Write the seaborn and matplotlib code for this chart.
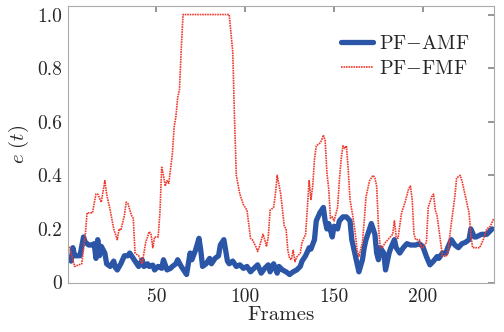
import numpy as np
import pandas as pd
import matplotlib
matplotlib.use("Agg")
import matplotlib.pyplot as plt
import seaborn as sns

# PF-AMF (linha azul grossa)
frames_amf = [1, 2, 3, 4, 6, 7, 9, 10, 12, 14, 15, 16, 17, 18, 19, 21, 22, 24, 26, 27,
              28, 30, 32, 34, 35, 37, 39, 40, 42, 43, 45, 46, 48, 49, 51, 53, 54, 56, 58, 59,
              61, 62, 64, 66, 67, 69, 70, 72, 74, 75, 76, 78, 80, 81, 83, 85, 86, 88, 90, 91,
              93, 95, 97, 99, 101, 103, 104, 106, 107, 109, 111, 113, 114, 116, 118, 119, 121, 123, 125, 127,
              129, 131, 132, 134, 136, 137, 139, 140, 142, 144, 145, 146, 147, 149, 150, 152, 153, 155, 157, 159,
              160, 161, 163, 164, 166, 167, 168, 170, 171, 173, 174, 175, 176, 178, 179, 181, 182, 184, 185, 187,
              189, 191, 193, 196, 198, 200, 202, 204, 206, 208, 209, 211, 213, 214, 216, 218, 220, 222, 224, 226,
              227, 229, 230, 233, 236, 239]
erro_amf = [0.09, 0.08, 0.13, 0.10, 0.10, 0.10, 0.17, 0.15, 0.14, 0.14, 0.145, 0.09, 0.16, 0.10, 0.135, 0.11, 0.07, 0.06, 0.08, 0.055,
            0.047, 0.07, 0.10, 0.10, 0.11, 0.09, 0.07, 0.06, 0.085, 0.06, 0.07, 0.06, 0.065, 0.047, 0.06, 0.053, 0.085, 0.047, 0.053, 0.06,
            0.07, 0.085, 0.06, 0.04, 0.03, 0.11, 0.085, 0.12, 0.165, 0.12, 0.06, 0.07, 0.09, 0.07, 0.09, 0.10, 0.14, 0.16, 0.08, 0.07,
            0.08, 0.06, 0.066, 0.053, 0.06, 0.04, 0.047, 0.06, 0.066, 0.035, 0.053, 0.066, 0.04, 0.07, 0.035, 0.06, 0.047, 0.04, 0.03, 0.04,
            0.047, 0.06, 0.08, 0.10, 0.13, 0.125, 0.16, 0.23, 0.26, 0.28, 0.23, 0.20, 0.22, 0.17, 0.21, 0.20, 0.23, 0.245, 0.245, 0.23,
            0.16, 0.13, 0.07, 0.04, 0.085, 0.13, 0.16, 0.20, 0.22, 0.18, 0.11, 0.085, 0.13, 0.11, 0.047, 0.11, 0.13, 0.16, 0.13, 0.11,
            0.13, 0.145, 0.14, 0.14, 0.145, 0.134, 0.097, 0.066, 0.08, 0.097, 0.09, 0.11, 0.11, 0.13, 0.16, 0.14, 0.13, 0.145, 0.15, 0.16,
            0.20, 0.17, 0.17, 0.18, 0.18, 0.20]

# PF-FMF (linha vermelha pontilhada)
frames_fmf = [1, 4, 6, 8, 10, 11, 14, 16, 17, 19, 21, 22, 24, 26, 28, 29, 30, 32, 33, 34,
              36, 37, 38, 40, 42, 44, 46, 47, 48, 49, 51, 52, 53, 54, 55, 56, 57, 59, 60, 61,
              62, 63, 64, 65, 91, 93, 94, 95, 97, 99, 100, 101, 103, 104, 106, 107, 108, 110, 111, 112,
              113, 114, 116, 117, 118, 120, 121, 122, 123, 124, 125, 126, 127, 128, 129, 131, 132, 134, 135, 136,
              137, 138, 139, 140, 142, 143, 144, 145, 146, 147, 148, 149, 150, 152, 153, 154, 155, 156, 157, 158,
              159, 161, 162, 163, 164, 166, 167, 168, 170, 172, 173, 174, 175, 176, 177, 179, 181, 183, 184, 185,
              186, 188, 190, 192, 193, 194, 195, 196, 198, 199, 200, 202, 203, 205, 206, 207, 208, 210, 211, 213,
              214, 216, 218, 219, 221, 222, 224, 226, 227, 228, 230, 232, 234, 236, 238, 240]
erro_fmf = [0.134, 0.06, 0.065, 0.07, 0.18, 0.26, 0.26, 0.33, 0.33, 0.30, 0.38, 0.33, 0.27, 0.20, 0.16, 0.20, 0.195, 0.25, 0.30, 0.295,
            0.25, 0.24, 0.11, 0.10, 0.07, 0.15, 0.19, 0.18, 0.13, 0.17, 0.17, 0.26, 0.43, 0.40, 0.36, 0.38, 0.37, 0.48, 0.58, 0.62,
            0.69, 0.72, 0.87, 1.0, 1.0, 0.86, 0.61, 0.40, 0.33, 0.29, 0.28, 0.27, 0.165, 0.16, 0.134, 0.116, 0.134, 0.18, 0.16, 0.134,
            0.17, 0.27, 0.28, 0.33, 0.40, 0.33, 0.27, 0.21, 0.20, 0.12, 0.09, 0.085, 0.12, 0.078, 0.095, 0.11, 0.15, 0.18, 0.28, 0.38,
            0.31, 0.36, 0.46, 0.51, 0.52, 0.53, 0.55, 0.53, 0.41, 0.35, 0.24, 0.245, 0.23, 0.28, 0.38, 0.46, 0.51, 0.50, 0.51, 0.42,
            0.31, 0.23, 0.18, 0.12, 0.097, 0.15, 0.23, 0.32, 0.38, 0.40, 0.39, 0.36, 0.21, 0.13, 0.13, 0.15, 0.165, 0.18, 0.23, 0.17,
            0.165, 0.26, 0.30, 0.35, 0.36, 0.31, 0.18, 0.16, 0.16, 0.13, 0.13, 0.15, 0.28, 0.32, 0.33, 0.27, 0.25, 0.15, 0.10, 0.097,
            0.11, 0.22, 0.32, 0.39, 0.40, 0.38, 0.32, 0.26, 0.18, 0.13, 0.13, 0.13, 0.16, 0.20, 0.21, 0.24]

xticks = [50, 100, 150, 200]
yticks = [0, 0.2, 0.4, 0.6, 0.8, 1.0]
yticklabels = ['0', '0.2', '0.4', '0.6', '0.8', '1.0']

sns.set_theme(style="white")
plt.rcParams['font.family'] = ['cmr10']
plt.rcParams['mathtext.fontset'] = 'cm'
plt.rcParams['axes.unicode_minus'] = False

df_amf = pd.DataFrame({'Frames': frames_amf, 'e': erro_amf})
df_fmf = pd.DataFrame({'Frames': frames_fmf, 'e': erro_fmf})

fig = plt.figure(figsize=(5.04, 3.32), dpi=100)
ax = fig.add_axes([0.134, 0.149, 0.846, 0.833])

sns.lineplot(data=df_amf, x='Frames', y='e', ax=ax, color='#2b55a6', linewidth=3.8,
             label=r'$\mathrm{PF{-}AMF}$')
sns.lineplot(data=df_fmf, x='Frames', y='e', ax=ax, color='#ee3b2f', linewidth=1.2,
             linestyle=(0, (1, 0.5)), label=r'$\mathrm{PF{-}FMF}$')

ax.set_xlim(0, 240)
ax.set_ylim(0, 1.032)
ax.set_xticks(xticks)
ax.set_xticklabels([str(t) for t in xticks])
ax.set_yticks(yticks)
ax.set_yticklabels(yticklabels)
ax.tick_params(direction='in', top=True, right=True, length=4, color='#888888',
               labelsize=14, pad=4)
for s in ax.spines.values():
    s.set_color('#aaaaaa')
    s.set_linewidth(0.8)

ax.set_xlabel('Frames', fontsize=15, labelpad=0)
ax.set_ylabel(r'$e\ (t)$', fontsize=15, labelpad=4)

leg = ax.legend(loc='upper right', bbox_to_anchor=(0.985, 0.96), frameon=False,
                fontsize=14.5, handlelength=1.6, handletextpad=0.3, labelspacing=0.35)

fig.savefig('out.png', dpi=100)
